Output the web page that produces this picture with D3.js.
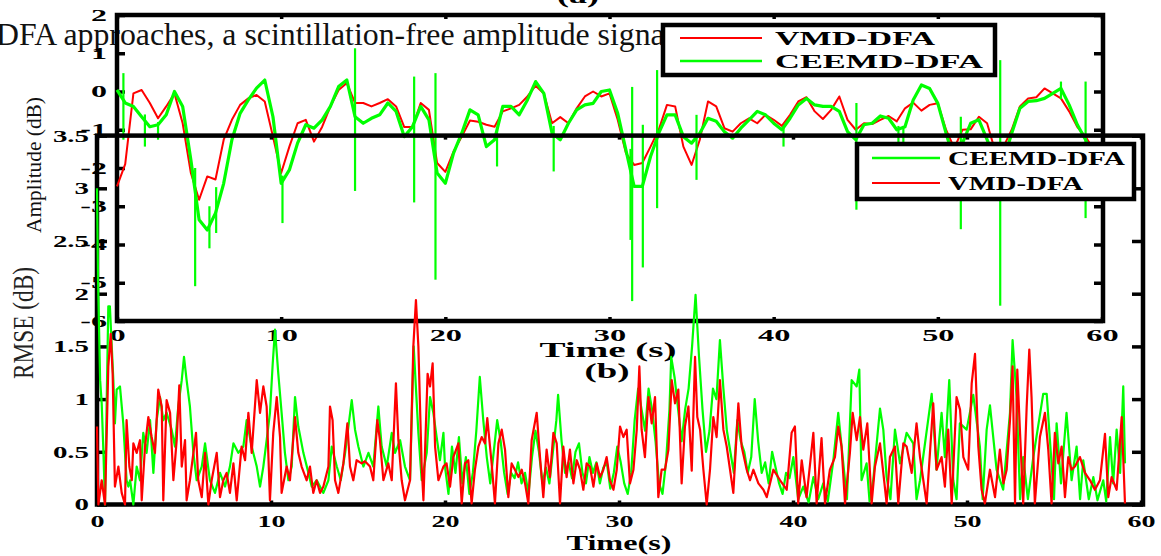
<!DOCTYPE html>
<html>
<head>
<meta charset="utf-8">
<script src="https://cdn.jsdelivr.net/npm/d3@7"></script>
<style>
  body { margin: 0; background: #fff; }
  svg { display: block; }
  text { font-family: "Liberation Serif", "Times New Roman", serif; }
</style>
</head>
<body>
<div id="chart"></div>
<script>
// ---------- data ----------
// (a) amplitude, sampled every 0.5 s from 0 to 60 s
const ampStep = 0.5;
const vmdAmp = [-2.48,-1.9,-0.05,0.04,-0.3,-0.7,-0.39,-0.05,-0.83,-2.13,-2.83,-2.22,-2.3,-1.26,-0.74,-0.35,-0.18,-0.09,-0.26,-1.18,
  -2.13,-1.44,-0.83,-0.74,-1.31,-0.92,-0.39,0.04,0.22,-0.3,-0.3,-0.39,-0.3,-0.2,-0.39,-0.93,-0.93,-0.3,-0.48,-1.87,
  -2.1,-1.57,-1.18,-0.76,-0.79,-0.87,-0.92,-0.52,-0.44,-0.35,-0.13,0.15,-0.05,-0.83,-0.67,-0.83,-0.44,-0.13,0.0,-0.13,
  -0.05,-0.74,-1.61,-1.92,-1.87,-1.44,-1.0,-0.35,-0.39,-1.44,-1.92,-1.26,-0.26,-0.39,-0.96,-1.05,-0.83,-0.7,-0.83,-0.61,
  -0.74,-0.9,-0.61,-0.26,-0.15,-0.52,-0.72,-0.48,-0.13,-0.74,-1.0,-0.83,-0.85,-0.74,-0.64,-0.78,-0.44,-0.29,-0.5,-0.35,
  -0.31,-1.0,-1.48,-1.0,-0.99,-0.66,-0.83,-1.57,-1.44,-1.0,-0.39,-0.18,-0.15,0.08,-0.05,-0.18,-0.52,-0.93,-1.18,-1.53,-1.87];
const ceemdAmp = [0.04,-0.3,-0.39,-0.66,-0.92,-0.87,-0.61,0.0,-0.39,-1.79,-3.35,-3.62,-3.18,-2.4,-1.26,-0.57,-0.22,0.09,0.3,-0.66,
  -2.4,-2.05,-1.35,-0.87,-0.96,-0.74,-0.39,0.13,0.3,-0.66,-0.83,-0.7,-0.61,-0.3,-0.52,-1.18,-0.92,-0.39,-0.74,-2.13,
  -2.4,-1.61,-1.09,-0.48,-0.61,-1.44,-1.26,-0.39,-0.39,-0.61,-0.22,0.26,-0.05,-1.09,-1.26,-0.83,-0.48,-0.35,-0.31,0.0,
  0.04,-0.57,-1.53,-2.48,-2.48,-1.7,-1.09,-0.61,-0.61,-1.18,-1.35,-1.09,-0.7,-0.78,-1.05,-1.22,-0.96,-0.74,-0.52,-0.61,
  -0.83,-1.0,-0.7,-0.35,-0.18,-0.35,-0.39,-0.39,-0.52,-1.05,-1.26,-0.87,-0.83,-0.64,-0.7,-1.0,-0.92,-0.22,0.17,0.08,
  -0.31,-1.09,-1.79,-1.35,-0.83,-0.74,-1.26,-1.79,-1.79,-1.09,-0.44,-0.26,-0.24,-0.18,-0.05,0.08,-0.35,-0.87,-1.26,-1.7,-2.0];
// CEEMD-DFA spikes: [time, top, bottom]
const ceemdSpikes = [[0.39,0.48,-1.26],[1.7,-0.6,-1.44],[2.5,-0.8,-1.26],[4.76,-2.0,-5.09],[5.63,-3.0,-4.1],[6.04,-2.5,-3.7],
  [10.08,-2.2,-3.44],[14.5,1.13,-2.6],[18.1,0.39,-2.9],[19.4,0.48,-4.92],[23.15,-1.0,-1.96],[26.6,-0.9,-2.09],
  [31.28,-1.5,-3.88],[31.38,0.12,-5.48],[32.03,-0.87,-4.6],[32.9,0.56,-3.05],[35.3,-0.61,-2.31],[40.6,-0.9,-1.44],
  [45.04,-0.3,-3.09],[47.6,-0.9,-1.87],[47.9,-0.9,-2.53],[51.4,-0.66,-3.6],[53.8,0.82,-5.6],[57.5,0.26,-0.2],[59.0,0.26,-3.31]];

// (b) RMSE, [time, value]
const vmdRmse = [[0,0.74],[0.08,0],[0.27,0.23],[0.46,0],[0.65,1.31],[0.79,1.62],[0.9,1.24],[1.03,0.17],[1.23,0.36],[1.42,0.11],
  [1.61,0],[1.7,0.8],[1.86,0.36],[2.0,0.23],[2.09,0.58],[2.28,0.49],[2.47,0.61],[2.57,0.04],[2.76,0.55],[2.95,0.83],
  [3.14,0.64],[3.33,0.49],[3.52,1.09],[3.72,0.93],[3.81,0.04],[4.0,0.99],[4.2,0.87],[4.39,0.23],[4.58,0.61],[4.73,1.13],
  [4.87,0.36],[5.06,0.61],[5.15,0.04],[5.34,0.23],[5.54,0.49],[5.69,0.68],[5.82,0.23],[6.02,0.07],[6.21,0.49],[6.4,0],
  [6.59,0.23],[6.88,0.49],[7.07,0.07],[7.26,0.23],[7.45,0.3],[7.64,0.11],[7.84,0.39],[8.03,0.04],[8.31,0.55],[8.51,0.42],
  [8.7,0.87],[8.89,0.49],[9.18,1.18],[9.37,0.87],[9.56,1.12],[9.75,0.93],[9.94,0.04],[10.13,0.68],[10.33,1.02],[10.52,0.64],
  [10.61,0.11],[10.9,0.36],[11.09,0.23],[11.38,0.83],[11.57,0.49],[11.76,0.36],[12.05,0.23],[12.24,0.36],[12.43,0.11],[12.62,0.23],
  [12.82,0.11],[13.01,0.17],[13.3,0.36],[13.39,0.93],[13.54,0.8],[13.68,0.23],[13.87,0.11],[14.16,0.39],[14.39,0.77],[14.54,0.36],
  [14.73,0.23],[14.92,0.42],[15.21,0.39],[15.4,0.41],[15.69,0.36],[15.88,0.23],[16.11,0.8],[16.26,0.61],[16.46,0.23],[16.74,0.39],
  [16.94,0.23],[17.18,1.15],[17.32,0.61],[17.51,0.23],[17.7,0.04],[17.99,0.23],[18.18,1.5],[18.33,1.94],[18.47,1.5],[18.66,0.36],
  [18.76,0.04],[19.0,1.24],[19.14,1.12],[19.29,1.34],[19.43,0.55],[19.62,0.23],[19.91,0.36],
  [20.09,0.39],[20.29,0.17],[20.48,0.45],[20.77,0.58],[20.96,0.01],[21.15,0.39],[21.34,0.42],[21.53,0.01],[21.72,0.33],[21.92,0.55],
  [22.11,0.64],[22.3,0.58],[22.43,0.82],[22.68,0.39],[22.87,0.01],[23.07,0.58],[23.26,0.71],[23.45,0.52],[23.64,0.07],[23.83,0.39],
  [24.02,0.33],[24.22,0.26],[24.41,0.33],[24.6,0.2],[24.79,0.01],[24.98,0.61],[25.27,0.87],[25.46,0.45],[25.65,0.07],[25.84,0.52],
  [26.03,0.26],[26.23,0.68],[26.42,0.58],[26.61,0.01],[26.8,0.55],[26.99,0.26],[27.18,0.52],[27.38,0.2],[27.57,0.42],[27.76,0.33],
  [27.95,0.14],[28.14,0.39],[28.33,0.36],[28.53,0.17],[28.72,0.39],[28.91,0.26],[29.1,0.33],[29.29,0.45],[29.48,0.23],[29.68,0.14],
  [29.87,0.33],[30.06,0.74],[30.25,0.64],[30.44,0.71],[30.63,0.2],[30.83,0.33],[31.02,0.71],[31.17,1.31],[31.3,0.71],[31.49,0.45],
  [31.69,1.02],[31.88,0.77],[32.07,1.02],[32.26,0.07],[32.45,0.33],[32.64,0.33],[32.84,0.52],[33.03,1.18],[33.22,0.96],[33.41,1.09],
  [33.6,0.2],[33.79,0.74],[33.99,0.93],[34.18,0.32],[34.37,1.4],[34.5,0.83],[34.66,0.71],[34.85,0.33],[35.04,0],[35.23,0.33],
  [35.42,0.83],[35.61,0.64],[35.8,1.18],[36.0,0.71],[36.19,0.55],[36.38,0.33],[36.57,0.11],[36.86,0.96],[37.05,0.55],[37.34,0.33],
  [37.53,0.23],[37.72,0.33],[38.01,0.2],[38.3,0.14],[38.49,0.07],[38.87,0.33],[39.26,0.23],[39.64,0.14],[39.92,0.68],
  [40.11,0.74],[40.3,0.01],[40.5,0.42],[40.78,0.07],[41.17,0.68],[41.36,0.01],[41.64,0.63],[41.84,0.01],[42.12,0.33],[42.41,0.45],
  [42.6,0.74],[42.79,0.55],[42.99,0.01],[43.27,0.49],[43.43,0.87],[43.66,0.61],[43.85,0.83],[44.04,0.52],[44.27,0.77],[44.52,0.01],
  [44.71,0.36],[45.0,0.58],[45.19,0.3],[45.38,0.01],[45.57,0.45],[45.86,0.55],[46.05,0.01],[46.34,0.58],[46.53,0.55],[46.82,0.3],
  [47.1,0.77],[47.3,0.45],[47.49,0.23],[47.68,0.01],[47.87,0.49],[48.06,0.96],[48.25,0.33],[48.54,0.45],[48.73,0.17],[48.92,0.71],
  [49.12,0.01],[49.4,1.02],[49.6,0.9],[49.79,0.45],[50.07,0.33],[50.27,1.15],[50.46,1.43],[50.65,0.55],[50.84,0.14],[51.03,0.01],
  [51.32,0.33],[51.61,0.07],[51.89,0.52],[52.09,0.2],[52.28,0.33],[52.47,0.8],[52.62,1.31],[52.76,0.01],[52.89,1.28],[53.04,0.71],
  [53.23,0.01],[53.43,0.93],[53.58,1.47],[53.71,1.02],[53.9,0.01],[54.19,0.64],[54.48,0.87],[54.67,0.52],[54.86,0.01],[55.05,0.68],
  [55.25,0.39],[55.44,0.55],[55.63,0.07],[55.82,0.45],[56.01,0.33],[56.2,0.36],[56.49,0.45],[56.78,0.3],[57.07,0.23],[57.35,0.14],
  [57.64,0.23],[57.93,0.67],[58.12,0.07],[58.31,0.26],[58.6,0.14],[58.89,0.83],[59.08,0.01]];
const ceemdRmse = [[0,3.0],[0.06,2.13],[0.18,1.18],[0.27,0.96],[0.37,0.49],[0.46,0],[0.56,1.0],[0.65,1.88],[0.74,1.88],[0.94,1.18],
  [1.03,0.77],[1.13,1.09],[1.32,1.12],[1.51,0.77],[1.7,0.23],[1.8,0.17],[1.9,0.23],[2.09,0],[2.28,0.36],[2.47,0.23],
  [2.66,0.68],[2.85,0.49],[3.05,0.8],[3.24,0.3],[3.43,0.8],[3.62,1.02],[3.81,0.8],[4.0,0.87],[4.29,0.71],[4.48,0.55],
  [4.67,0.93],[4.87,1.18],[5.0,1.4],[5.15,1.18],[5.34,0.93],[5.54,0.49],[5.73,0.23],[6.02,0.36],[6.21,0.58],[6.49,0.23],
  [6.78,0.11],[7.07,0.3],[7.36,0.17],[7.64,0.36],[7.84,0.58],[8.12,0.49],[8.41,0.55],[8.6,0.8],[8.89,0.55],[9.18,0.36],
  [9.37,0.17],[9.56,0.36],[9.75,0.61],[9.94,0.87],[10.1,1.34],[10.23,1.66],[10.42,1.24],[10.61,0.87],[10.8,0.49],[11.0,0.23],
  [11.19,0.36],[11.38,1.02],[11.57,0.74],[11.86,0.49],[12.15,0.3],[12.34,0.17],[12.63,0.23],[13.01,0.11],[13.3,0.23],[13.49,0.55],
  [13.78,0.36],[14.01,0.23],[14.26,0.49],[14.64,0.99],[14.83,0.71],[15.02,0.55],[15.31,0.36],[15.6,0.49],[15.88,0.36],[16.17,0.93],
  [16.36,0.55],[16.65,0.36],[16.94,0.68],[17.13,0.49],[17.42,0.61],[17.7,0.36],[17.99,0.23],[18.2,1.5],[18.47,0.68],[18.66,0.23],
  [18.95,0.49],[19.14,1.02],[19.33,0.87],[19.52,0.64],[19.71,0.42],[19.91,0.68],
  [20.0,0.36],[20.2,0.1],[20.4,0.55],[20.6,0.3],[20.8,0.64],[21.0,0.2],[21.2,0.45],[21.4,0.1],[21.6,0.3],[21.8,0.7],
  [22.0,1.21],[22.2,0.8],[22.4,0.45],[22.6,0.2],[22.8,0.5],[23.0,0.8],[23.2,0.6],[23.4,0.3],[23.6,0.1],[23.8,0.3],
  [24.0,0.25],[24.2,0.4],[24.4,0.2],[24.6,0.3],[24.8,0.1],[25.0,0.45],[25.2,0.7],[25.4,0.5],[25.6,0.2],[25.8,0.35],
  [26.0,0.2],[26.2,0.5],[26.4,0.8],[26.5,1.04],[26.7,0.6],[26.9,0.3],[27.1,0.4],[27.3,0.25],[27.5,0.5],[27.7,0.58],
  [27.9,0.3],[28.1,0.2],[28.3,0.45],[28.5,0.3],[28.7,0.4],[28.9,0.2],[29.1,0.35],[29.3,0.4],[29.5,0.15],[29.7,0.3],
  [29.9,0.55],[30.1,0.4],[30.3,0.2],[30.5,0.1],[30.7,0.3],[30.9,0.8],[31.1,1.1],[31.3,0.9],[31.5,0.7],[31.7,1.1],
  [31.9,0.9],[32.1,0.6],[32.3,0.2],[32.5,0.1],[32.7,0.4],[32.9,0.9],[33.0,1.4],[33.2,1.2],[33.4,0.9],[33.6,0.6],
  [33.8,0.9],[34.0,1.1],[34.2,1.5],[34.4,1.99],[34.6,1.4],[34.8,0.9],[35.0,0.5],[35.2,0.7],[35.4,1.1],[35.6,1.0],
  [35.8,1.56],[36.0,1.1],[36.2,0.7],[36.4,0.5],[36.6,0.3],[36.8,0.8],[37.0,0.6],[37.2,0.5],[37.4,0.3],[37.6,0.45],
  [37.8,1.0],[38.0,0.6],[38.2,0.3],[38.4,0.4],[38.6,0.2],[38.8,0.5],[39.0,0.35],[39.2,0.2],[39.4,0.1],[39.6,0.3],
  [39.8,0.25],[40.02,0.45],[40.3,0.05],[40.59,0.17],[40.9,0.02],[41.17,0.26],[41.45,0.05],[41.74,0.2],[42.0,0.03],[42.32,0.42],
  [42.6,0.87],[42.89,0.39],[43.1,0.05],[43.37,1.18],[43.66,1.12],[43.81,1.28],[43.94,0.23],[44.23,0.39],[44.4,0.03],[44.61,0.23],
  [45.0,0.91],[45.19,0.71],[45.38,0.26],[45.6,0.05],[45.86,0.71],[46.15,0.39],[46.53,0.68],[46.91,0.58],[47.1,0.05],[47.3,0.23],
  [47.97,1.05],[48.25,0.33],[48.54,0.87],[48.73,0.45],[48.98,1.18],[49.21,0.23],[49.4,0.05],[49.59,0.77],[49.98,0.71],[50.36,1.04],
  [50.74,0.55],[50.9,0.05],[51.13,0.71],[51.32,0.94],[51.7,0.33],[52.08,0.14],[52.47,0.87],[52.62,1.56],[52.85,1.02],[53.05,0.05],
  [53.23,0.45],[53.5,0.05],[53.81,0.45],[54.38,1.05],[54.58,1.05],[54.86,0.39],[55.0,0.05],[55.15,0.77],[55.4,0.2],[55.72,0.87],
  [56.01,0.23],[56.3,0.55],[56.5,0.05],[56.68,0.42],[57.0,0.05],[57.26,0.26],[57.5,0.04],[57.83,0.23],[58.0,0.03],[58.22,0.64],
  [58.4,0.2],[58.6,0.71],[58.8,0.3],[58.98,1.12],[59.08,0.39]];

const ampTicksY = [2, 1, 0, -1, -2, -3, -4, -5, -6];
const timeTicks = [0, 10, 20, 30, 40, 50, 60];
const rmseTicksY = [0, 0.5, 1, 1.5, 2, 2.5, 3, 3.5];

const pageText = "DFA approaches, a scintillation-free amplitude signal";

// ---------- setup ----------
const width = 1161, height = 556;
const RED = "#ff0000", GREEN = "#00ff00";

const svg = d3.select("#chart").append("svg")
    .attr("width", width)
    .attr("height", height);

// stretch text horizontally like the scanned figure
function stretch(sel, k) {
    sel.each(function() {
        const w = this.getComputedTextLength();
        d3.select(this).attr("textLength", w * k).attr("lengthAdjust", "spacingAndGlyphs");
    });
}

// scales (a)
const xA = d3.scaleLinear().domain([0, 60]).range([117, 1102]);
const yA = d3.scaleLinear().domain([-6, 2]).range([321, 15]);
// scales (b)
const xB = d3.scaleLinear().domain([0, 60]).range([97, 1141]);
const yB = d3.scaleLinear().domain([0, 3.5]).range([504.5, 135.6]);

// page text behind the figure
svg.append("text")
    .attr("x", -4).attr("y", 45)
    .attr("font-size", 31.8)
    .attr("fill", "#111")
    .text(pageText);

svg.append("text")
    .attr("x", 578).attr("y", 3)
    .attr("text-anchor", "middle")
    .attr("font-size", 20).attr("font-weight", "bold")
    .text("(a)")
    .call(stretch, 1.8);

// ---------- chart (a) frame ----------
const gA = svg.append("g");
gA.append("rect")
    .attr("x", xA(0)).attr("y", yA(2))
    .attr("width", 1103 - xA(0)).attr("height", yA(-6) - yA(2))
    .attr("fill", "none").attr("stroke", "#000").attr("stroke-width", 4.5);

const fmtSigned = d => d < 0 ? "-" + (-d) : String(d);

function styleAxis(g, fs) {
    g.select(".domain").remove();
    g.selectAll(".tick line").attr("stroke", "#000").attr("stroke-width", 3.5);
    g.selectAll(".tick text")
        .attr("fill", "#000")
        .attr("font-size", fs)
        .attr("font-weight", "bold")
        .attr("font-family", "Liberation Serif, Times New Roman, serif");
}

gA.append("g")
    .attr("transform", `translate(${xA(0)},0)`)
    .call(d3.axisLeft(yA).tickValues(ampTicksY).tickFormat(fmtSigned).tickSizeInner(-8).tickSizeOuter(0).tickPadding(10))
    .call(styleAxis, 16)
    .call(g => g.selectAll(".tick text").call(stretch, 2));
gA.append("g")
    .attr("transform", "translate(1103,0)")
    .call(d3.axisRight(yA).tickValues(ampTicksY).tickFormat("").tickSizeInner(-9).tickSizeOuter(0))
    .call(styleAxis, 16);
gA.append("g")
    .attr("transform", `translate(0,${yA(-6)})`)
    .call(d3.axisBottom(xA).tickValues(timeTicks).tickFormat(d3.format("d")).tickSizeInner(-4).tickSizeOuter(0).tickPadding(8))
    .call(styleAxis, 17)
    .call(g => g.selectAll(".tick text").call(stretch, 1.9));
gA.append("g")
    .attr("transform", `translate(0,${yA(2)})`)
    .call(d3.axisTop(xA).tickValues(timeTicks).tickFormat("").tickSizeInner(-4).tickSizeOuter(0))
    .call(styleAxis, 17);

// legend of (b) sits under the (a) traces
function legend(g, x, y, w, h, items, lineX0, lineX1, textX, rows, lens) {
    g.append("rect")
        .attr("x", x).attr("y", y).attr("width", w).attr("height", h)
        .attr("fill", "#fff").attr("stroke", "#000").attr("stroke-width", 4.5);
    items.forEach((it, i) => {
        g.append("line")
            .attr("x1", lineX0).attr("x2", lineX1)
            .attr("y1", rows[i]).attr("y2", rows[i])
            .attr("stroke", it.color).attr("stroke-width", it.color === GREEN ? 2.6 : 2);
        g.append("text")
            .attr("x", textX).attr("y", rows[i] + 7)
            .attr("font-size", 19).attr("font-weight", "bold")
            .attr("textLength", lens[i]).attr("lengthAdjust", "spacingAndGlyphs")
            .text(it.name);
    });
}

legend(svg.append("g"), 857, 144, 277, 55,
    [{name: "CEEMD-DFA", color: GREEN}, {name: "VMD-DFA", color: RED}],
    872, 940, 948, [158, 183], [177, 135]);

// ---------- chart (a) traces ----------
const lineA = d3.line()
    .x((d, i) => xA(i * ampStep))
    .y(d => yA(d));

gA.append("path")
    .datum(vmdAmp)
    .attr("d", lineA)
    .attr("fill", "none").attr("stroke", RED).attr("stroke-width", 2)
    .attr("stroke-linejoin", "round");

gA.append("path")
    .datum(ceemdAmp)
    .attr("d", lineA)
    .attr("fill", "none").attr("stroke", GREEN).attr("stroke-width", 3.2)
    .attr("stroke-linejoin", "round");

gA.selectAll(".spike")
    .data(ceemdSpikes)
    .join("line")
    .attr("class", "spike")
    .attr("x1", d => xA(d[0])).attr("x2", d => xA(d[0]))
    .attr("y1", d => yA(d[1])).attr("y2", d => yA(d[2]))
    .attr("stroke", GREEN).attr("stroke-width", 2.2);

legend(svg.append("g"), 663, 25, 332, 50,
    [{name: "VMD-DFA", color: RED}, {name: "CEEMD-DFA", color: GREEN}],
    680, 762, 775, [38, 61], [160, 208]);

svg.append("text")
    .attr("x", 608).attr("y", 357)
    .attr("text-anchor", "middle")
    .attr("font-size", 21).attr("font-weight", "bold")
    .attr("textLength", 137).attr("lengthAdjust", "spacingAndGlyphs")
    .text("Time (s)");

svg.append("text")
    .attr("x", 607).attr("y", 378)
    .attr("text-anchor", "middle")
    .attr("font-size", 21).attr("font-weight", "bold")
    .attr("textLength", 45).attr("lengthAdjust", "spacingAndGlyphs")
    .text("(b)");

// ---------- chart (b) ----------
const gB = svg.append("g");
gB.append("rect")
    .attr("x", xB(0)).attr("y", yB(3.5))
    .attr("width", 1143 - xB(0)).attr("height", yB(0) - yB(3.5))
    .attr("fill", "none").attr("stroke", "#000").attr("stroke-width", 4.5);

gB.append("g")
    .attr("transform", `translate(${xB(0)},0)`)
    .call(d3.axisLeft(yB).tickValues(rmseTicksY).tickFormat(d => String(d)).tickSizeInner(-10).tickSizeOuter(0).tickPadding(8))
    .call(styleAxis, 17)
    .call(g => g.selectAll(".tick text").call(stretch, 1.7));
gB.append("g")
    .attr("transform", "translate(1143,0)")
    .call(d3.axisRight(yB).tickValues(rmseTicksY).tickFormat("").tickSizeInner(-11).tickSizeOuter(0))
    .call(styleAxis, 17);
gB.append("g")
    .attr("transform", `translate(0,${yB(0)})`)
    .call(d3.axisBottom(xB).tickValues(timeTicks).tickFormat(d3.format("d")).tickSizeInner(-4).tickSizeOuter(0).tickPadding(10))
    .call(styleAxis, 17)
    .call(g => g.selectAll(".tick text").call(stretch, 1.65));
gB.append("g")
    .attr("transform", `translate(0,${yB(3.5)})`)
    .call(d3.axisTop(xB).tickValues(timeTicks).tickFormat("").tickSizeInner(-4).tickSizeOuter(0))
    .call(styleAxis, 17);

const lineB = d3.line()
    .x(d => xB(d[0]))
    .y(d => yB(d[1]));

gB.append("path")
    .datum(ceemdRmse)
    .attr("d", lineB)
    .attr("fill", "none").attr("stroke", GREEN).attr("stroke-width", 2.2)
    .attr("stroke-linejoin", "round");

gB.append("path")
    .datum(vmdRmse)
    .attr("d", lineB)
    .attr("fill", "none").attr("stroke", RED).attr("stroke-width", 2.2)
    .attr("stroke-linejoin", "round");

svg.append("text")
    .attr("x", 619).attr("y", 550)
    .attr("text-anchor", "middle")
    .attr("font-size", 21).attr("font-weight", "bold")
    .attr("textLength", 105).attr("lengthAdjust", "spacingAndGlyphs")
    .text("Time(s)");

// y labels
svg.append("text")
    .attr("transform", "translate(41,165) rotate(-90)")
    .attr("text-anchor", "middle")
    .attr("font-size", 20).attr("fill", "#111")
    .attr("textLength", 136).attr("lengthAdjust", "spacingAndGlyphs")
    .text("Amplitude (dB)");

svg.append("text")
    .attr("transform", "translate(33,323) rotate(-90)")
    .attr("text-anchor", "middle")
    .attr("font-size", 30).attr("fill", "#222")
    .attr("textLength", 112).attr("lengthAdjust", "spacingAndGlyphs")
    .text("RMSE (dB)");
</script>
</body>
</html>
